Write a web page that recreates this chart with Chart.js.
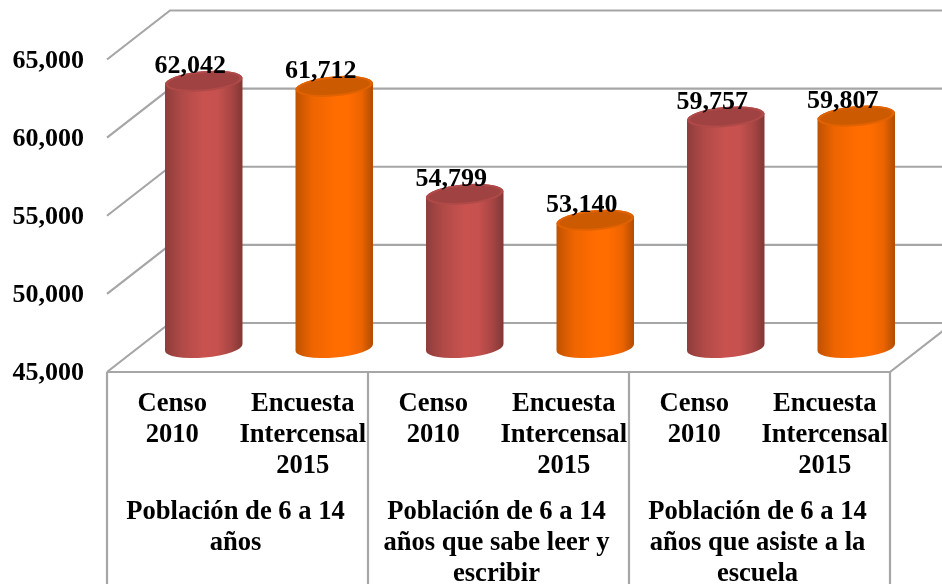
<!DOCTYPE html>
<html>
<head>
<meta charset="utf-8">
<style>html,body{margin:0;padding:0;background:#fff}#w{width:942px;height:584px}</style>
<script src="https://cdn.jsdelivr.net/npm/chart.js@4"></script>
</head>
<body>
<div id="w"><canvas id="c"></canvas></div>
<script>
const categories = [
  ["Censo","2010"],["Encuesta","Intercensal","2015"],
  ["Censo","2010"],["Encuesta","Intercensal","2015"],
  ["Censo","2010"],["Encuesta","Intercensal","2015"]
];
const groups = [
  ["Población de 6 a 14","años"],
  ["Población de 6 a 14","años que sabe leer y","escribir"],
  ["Población de 6 a 14","años que asiste a la","escuela"]
];
const values = [62042,61712,54799,53140,59757,59807];
const yMin = 45000, yMax = 65000, yStep = 5000;

const FAMILY = '"Liberation Serif","Times New Roman",serif';
const FONT = {family:FAMILY,size:26,weight:'bold',lineHeight:1.18};
const FONT_X = {family:FAMILY,size:26.6,weight:'bold',lineHeight:1.16};
const GRID = '#a6a6a6';
const DEPTH_X = 63, DEPTH_Y = -49;
const PAL = [
  {stops:['#8e3d3b','#b04a47','#c9524f','#c6514e','#a84644','#823735'],top:'#a04241',rim:'#b04a48'},
  {stops:['#bf5200','#ee6500','#ff6c00','#ff6c00','#ec6400','#b04c00'],top:'#cc5a00',rim:'#e06200'}
];
const fmt = v => v.toLocaleString('en-US');

const cube = {
  id:'cube',
  beforeDatasetsDraw(chart){
    const {ctx,scales:{y,x2}} = chart;
    const L = y.right, R = x2.right, W = chart.width;
    ctx.save();
    ctx.strokeStyle = GRID; ctx.lineWidth = 2.2;
    y.ticks.forEach(t=>{
      const py = y.getPixelForValue(t.value);
      ctx.beginPath();
      ctx.moveTo(L,py); ctx.lineTo(L+DEPTH_X,py+DEPTH_Y); ctx.lineTo(W,py+DEPTH_Y);
      ctx.stroke();
    });
    const fl = y.getPixelForValue(yMin);
    ctx.beginPath();
    ctx.moveTo(L,fl); ctx.lineTo(R,fl); ctx.lineTo(R+DEPTH_X,fl+DEPTH_Y); ctx.stroke();
    for(let i=0;i<=groups.length;i++){
      const px = x2.left + i*(x2.right-x2.left)/groups.length;
      ctx.beginPath(); ctx.moveTo(px,fl); ctx.lineTo(px,chart.height); ctx.stroke();
    }
    ctx.restore();
  },
  afterDatasetsDraw(chart){
    const {ctx,scales:{y}} = chart;
    const meta = chart.getDatasetMeta(0);
    const rot = -5*Math.PI/180, ry = 10;
    const floor = y.getPixelForValue(yMin);
    meta.data.forEach((el,i)=>{
      const p = PAL[i%2];
      const cx = el.x + DEPTH_X/2, rx = el.width/2;
      const ty = el.y + DEPTH_Y/2, by = floor + DEPTH_Y/2;
      ctx.save();
      const g = ctx.createLinearGradient(cx-rx,0,cx+rx,0);
      [0,.22,.5,.68,.85,1].forEach((s,k)=>g.addColorStop(s,p.stops[k]));
      ctx.beginPath();
      ctx.ellipse(cx,by,rx,ry,rot,0,Math.PI,false);
      ctx.ellipse(cx,ty,rx,ry,rot,Math.PI,2*Math.PI,false);
      ctx.closePath();
      ctx.fillStyle = g; ctx.fill();
      ctx.beginPath();
      ctx.ellipse(cx,ty,rx,ry,rot,0,2*Math.PI);
      ctx.fillStyle = p.rim; ctx.fill();
      ctx.beginPath();
      ctx.ellipse(cx,ty,rx-3,ry-2,rot,0,2*Math.PI);
      ctx.fillStyle = p.top; ctx.fill();
      ctx.restore();
    });
    ctx.save();
    ctx.font = 'bold 26px '+FAMILY;
    ctx.fillStyle = '#000'; ctx.textAlign='center'; ctx.textBaseline='middle';
    meta.data.forEach((el,i)=>{
      ctx.fillText(fmt(values[i]), el.x + DEPTH_X/2 - 13.5, el.y + DEPTH_Y/2 - 15);
    });
    ctx.restore();
  }
};

new Chart(document.getElementById('c'),{
  type:'bar',
  data:{labels:categories,datasets:[{
    data:values, xAxisID:'x', yAxisID:'y',
    backgroundColor:'rgba(0,0,0,0)', borderWidth:0,
    categoryPercentage:1, barPercentage:0.596
  }]},
  plugins:[cube],
  options:{
    responsive:true, maintainAspectRatio:false, animation:false,
    layout:{padding:{top:59.5,right:52,left:0,bottom:0},autoPadding:false},
    plugins:{legend:{display:false},tooltip:{enabled:false},title:{display:false}},
    scales:{
      y:{min:yMin,max:yMax,
        grid:{display:false,drawTicks:false},border:{display:false},
        ticks:{stepSize:yStep,padding:23,labelOffset:1.5,color:'#000',font:FONT,callback:v=>fmt(v)},
        afterFit(s){s.width=107;}
      },
      x:{position:'bottom',weight:1,
        grid:{display:false,drawTicks:false},border:{display:false},
        ticks:{padding:16.5,color:'#000',font:FONT_X,maxRotation:0,minRotation:0,autoSkip:false},
        afterFit(s){s.height=106;}
      },
      x2:{type:'category',labels:groups,position:'bottom',weight:2,
        grid:{display:false,drawTicks:false},border:{display:false},
        ticks:{padding:18.5,labelOffset:-2,color:'#000',font:FONT_X,maxRotation:0,minRotation:0,autoSkip:false},
        afterFit(s){s.height=106;}
      }
    }
  }
});
</script>
</body>
</html>
